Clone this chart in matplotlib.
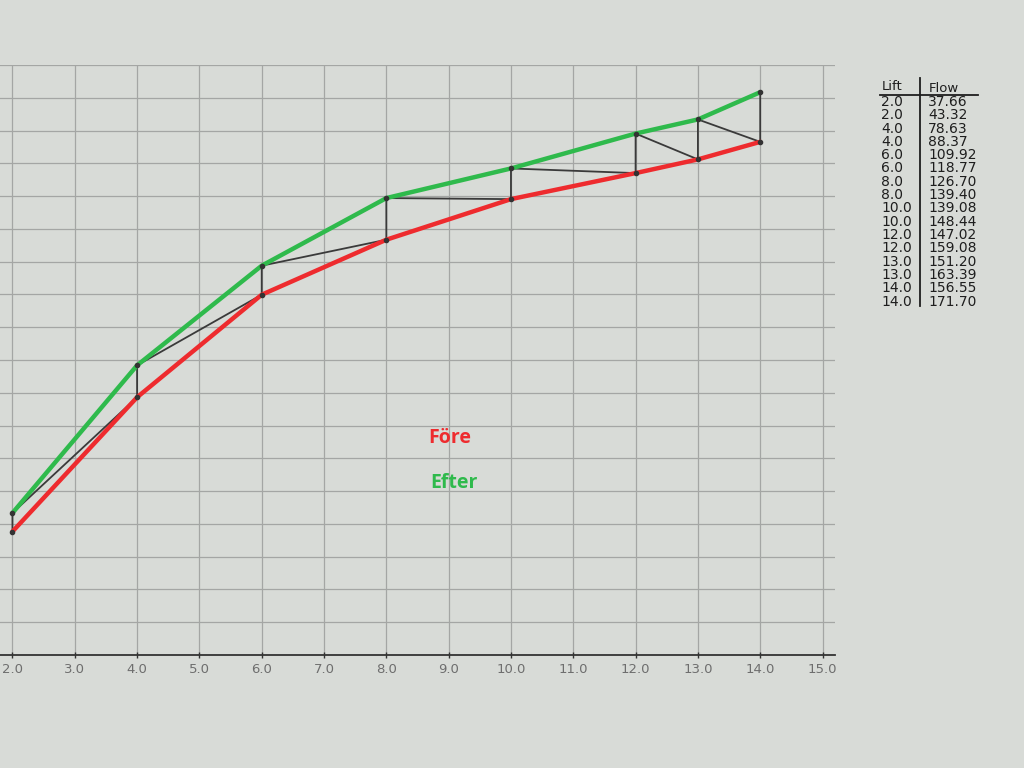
import numpy as np
import matplotlib.pyplot as plt

# measured pairs: (before, after) at each lift
lift = [2.0, 2.0, 4.0, 4.0, 6.0, 6.0, 8.0, 8.0, 10.0, 10.0, 12.0, 12.0, 13.0, 13.0, 14.0, 14.0]
flow = [37.66, 43.32, 78.63, 88.37, 109.92, 118.77, 126.70, 139.40,
        139.08, 148.44, 147.02, 159.08, 151.20, 163.39, 156.55, 171.70]

x_ticks = [2.0, 3.0, 4.0, 5.0, 6.0, 7.0, 8.0, 9.0, 10.0, 11.0, 12.0, 13.0, 14.0, 15.0]

lift = np.array(lift)
flow = np.array(flow)
fore_x, fore_y = lift[0::2], flow[0::2]
efter_x, efter_y = lift[1::2], flow[1::2]

W, H = 1024, 768
bg = '#d8dbd7'
fig = plt.figure(figsize=(W / 100, H / 100), dpi=100, facecolor=bg)
ax = fig.add_axes([0.0, 1 - 655 / H, 835 / W, (655 - 65) / H])
ax.set_facecolor(bg)

ax.set_xlim(1.8, 15.2)
ax.set_ylim(0, 180)
ax.set_xticks(x_ticks)
ax.set_xticklabels([f"{t:.1f}" for t in x_ticks])
ax.set_yticks(np.arange(0, 181, 10))
ax.tick_params(axis='y', left=False, labelleft=False)
ax.tick_params(axis='x', direction='inout', length=5, width=1, color='#333333',
               labelsize=9.5, labelcolor='#6e6e6e', pad=3)
ax.grid(True, color='#a4a6a4', linewidth=0.9)
ax.set_axisbelow(True)

for s in ['top', 'right', 'left']:
    ax.spines[s].set_visible(False)
ax.spines['bottom'].set_color('#333333')
ax.spines['bottom'].set_linewidth(1.3)

ax.plot(lift, flow, color='#3a3a3a', linewidth=1.3, zorder=3)
ax.plot(fore_x, fore_y, color='#ee2b2e', linewidth=3.2, solid_capstyle='round', zorder=4)
ax.plot(efter_x, efter_y, color='#2fba4c', linewidth=3.2, solid_capstyle='round', zorder=4)
ax.plot(lift, flow, 'o', color='#333333', markersize=3, zorder=5)

fig.text(428 / W, 1 - 438 / H, 'Före', color='#ee2b2e', fontsize=14,
         fontweight='bold', family='Open Sans', va='center')
fig.text(430 / W, 1 - 483 / H, 'Efter', color='#2fba4c', fontsize=14,
         fontweight='bold', family='Open Sans', va='center')

# value table on the right
fig.text(882 / W, 1 - 86 / H, 'Lift', fontsize=9.5, color='#1e1e1e', va='center')
fig.text(929 / W, 1 - 88 / H, 'Flow', fontsize=9.5, color='#1e1e1e', va='center')
fig.add_artist(plt.Line2D([880 / W, 978 / W], [1 - 95 / H, 1 - 95 / H],
                          color='#1e1e1e', linewidth=1.3))
fig.add_artist(plt.Line2D([920 / W, 920 / W], [1 - 78 / H, 1 - 306 / H],
                          color='#1e1e1e', linewidth=1.3))
for i, (l, f) in enumerate(zip(lift, flow)):
    y = 1 - (102 + i * 13.3) / H
    fig.text(881 / W, y, f"{l:.1f}", fontsize=10, color='#1e1e1e', va='center')
    fig.text(928 / W, y, f"{f:.2f}", fontsize=10, color='#1e1e1e', va='center')

fig.savefig('out.png', dpi=100, facecolor=bg)
